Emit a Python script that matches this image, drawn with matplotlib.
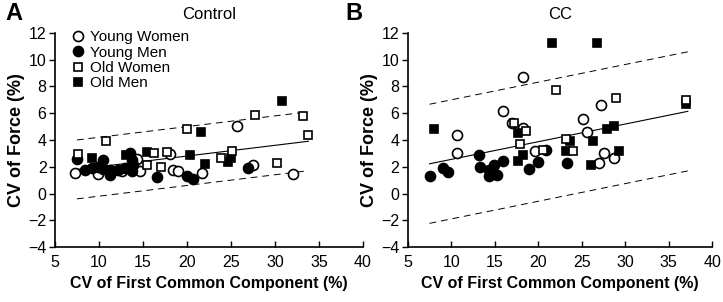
import numpy as np
import matplotlib
matplotlib.use('Agg')
import matplotlib.pyplot as plt

plt.rcParams['font.family'] = ['Liberation Sans', 'DejaVu Sans']

# Panel A (Control) data: CV of first common component vs CV of force
yw_a_x = [7.3, 9.9, 12.6, 14.3, 14.7, 18.1, 18.4, 19.0, 21.7, 25.7, 27.5, 32.1]
yw_a_y = [1.53, 1.46, 1.7, 2.57, 1.65, 2.95, 1.78, 1.7, 1.53, 5.06, 2.15, 1.46]
ym_a_x = [7.5, 8.4, 9.2, 9.9, 10.5, 10.5, 11.25, 11.25, 12.2, 12.95, 13.5, 13.7, 13.7, 13.9, 16.6, 20.0, 20.7, 26.9]
ym_a_y = [2.6, 1.78, 1.9, 1.98, 2.52, 1.83, 1.78, 1.4, 1.78, 1.9, 3.0, 2.5, 1.65, 2.15, 1.2, 1.33, 1.08, 1.9]
ow_a_x = [7.65, 10.76, 15.5, 16.2, 17.1, 17.7, 19.97, 23.9, 25.1, 27.7, 30.2, 33.2, 33.7]
ow_a_y = [2.97, 3.89, 2.15, 3.02, 1.95, 3.12, 4.81, 2.65, 3.14, 5.88, 2.28, 5.81, 4.39]
om_a_x = [9.17, 13.1, 15.5, 20.3, 21.6, 22.1, 24.7, 25.0, 30.76]
om_a_y = [2.69, 2.9, 3.07, 2.9, 4.59, 2.22, 2.35, 2.65, 6.93]

# Panel B (CC) data
yw_b_x = [10.7, 10.7, 16.0, 17.0, 18.3, 18.3, 19.6, 25.1, 25.6, 27.0, 27.2, 27.6, 28.7]
yw_b_y = [4.39, 3.02, 6.2, 5.26, 8.69, 4.89, 3.14, 5.6, 4.56, 2.27, 6.63, 3.02, 2.65]
ym_b_x = [7.5, 9.0, 9.6, 13.2, 13.3, 14.3, 14.3, 14.9, 15.3, 16.0, 18.9, 20.0, 20.9, 23.3]
ym_b_y = [1.33, 1.9, 1.58, 2.9, 1.98, 1.78, 1.28, 2.15, 1.4, 2.4, 1.83, 2.32, 3.27, 2.27]
ow_b_x = [17.2, 17.9, 18.6, 20.5, 22.1, 23.2, 24.0, 28.9, 37.0]
ow_b_y = [5.26, 3.7, 4.64, 3.27, 7.75, 4.07, 3.14, 7.13, 7.0]
om_b_x = [8.07, 17.7, 17.7, 18.2, 21.6, 23.2, 23.6, 26.1, 26.25, 26.8, 27.95, 28.7, 29.3, 37.0]
om_b_y = [4.84, 4.51, 2.4, 2.9, 11.28, 3.14, 3.89, 2.15, 3.89, 11.28, 4.81, 5.06, 3.14, 6.7]

# regression line (intercept, slope), prediction band half-width, x range
fit_a = [1.2, 0.08]
band_a = 2.2
range_a = [7.5, 33.8]
fit_b = [1.23, 0.132]
band_b = 4.45
range_b = [7.5, 37.2]

fig = plt.figure(figsize=(7.23, 3.02), dpi=100)
ax_a = fig.add_axes([0.076, 0.182, 0.426, 0.709])
ax_b = fig.add_axes([0.564, 0.182, 0.421, 0.709])


def draw_panel(ax, groups, fit, band, xr, title):
    xs = np.array(xr)
    yc = fit[0] + fit[1] * xs
    ax.plot(xs, yc, color='black', lw=0.8)
    ax.plot(xs, yc + band, color='black', lw=0.7, ls=(0, (7, 5)))
    ax.plot(xs, yc - band, color='black', lw=0.7, ls=(0, (7, 5)))
    styles = [('o', 'white', 7.2, 'Young Women'),
              ('o', 'black', 7.2, 'Young Men'),
              ('s', 'black', 6.3, 'Old Men'),
              ('s', 'white', 6.3, 'Old Women')]
    handles = {}
    for (gx, gy), (m, fc, ms, lab) in zip(groups, styles):
        h, = ax.plot(gx, gy, ls='none', marker=m, mfc=fc, mec='black',
                     mew=1.2, ms=ms, label=lab)
        handles[lab] = h
    ax.set_xlim(5, 40)
    ax.set_ylim(-4, 12)
    ax.set_xticks(range(5, 41, 5))
    ax.set_yticks(range(-4, 13, 2))
    ax.spines['top'].set_visible(False)
    ax.spines['right'].set_visible(False)
    ax.spines['left'].set_linewidth(1.2)
    ax.spines['bottom'].set_linewidth(1.2)
    ax.tick_params(axis='y', direction='out', length=4, width=1, labelsize=11.5, pad=2)
    ax.tick_params(axis='x', direction='in', length=4, width=1, labelsize=11.5, pad=6)
    ax.set_xlabel('CV of First Common Component (%)', fontsize=11.5,
                  fontweight='bold', labelpad=4)
    ax.set_ylabel('CV of Force (%)', fontsize=13, fontweight='bold', labelpad=2)
    ax.set_title(title, fontsize=12, pad=10)
    return handles


h = draw_panel(ax_a, [(yw_a_x, yw_a_y), (ym_a_x, ym_a_y), (om_a_x, om_a_y), (ow_a_x, ow_a_y)],
               fit_a, band_a, range_a, 'Control')
draw_panel(ax_b, [(yw_b_x, yw_b_y), (ym_b_x, ym_b_y), (om_b_x, om_b_y), (ow_b_x, ow_b_y)],
           fit_b, band_b, range_b, 'CC')

order = ['Young Women', 'Young Men', 'Old Women', 'Old Men']
ax_a.legend([h[k] for k in order], order, loc='upper left', frameon=False,
            fontsize=11, handletextpad=0.3, labelspacing=0.08,
            borderaxespad=0.0, handlelength=1.0, bbox_to_anchor=(0.03, 1.04))

fig.text(0.008, 0.955, 'A', fontsize=17, fontweight='bold', va='center')
fig.text(0.478, 0.955, 'B', fontsize=17, fontweight='bold', va='center')

fig.savefig('out.png', dpi=100)
